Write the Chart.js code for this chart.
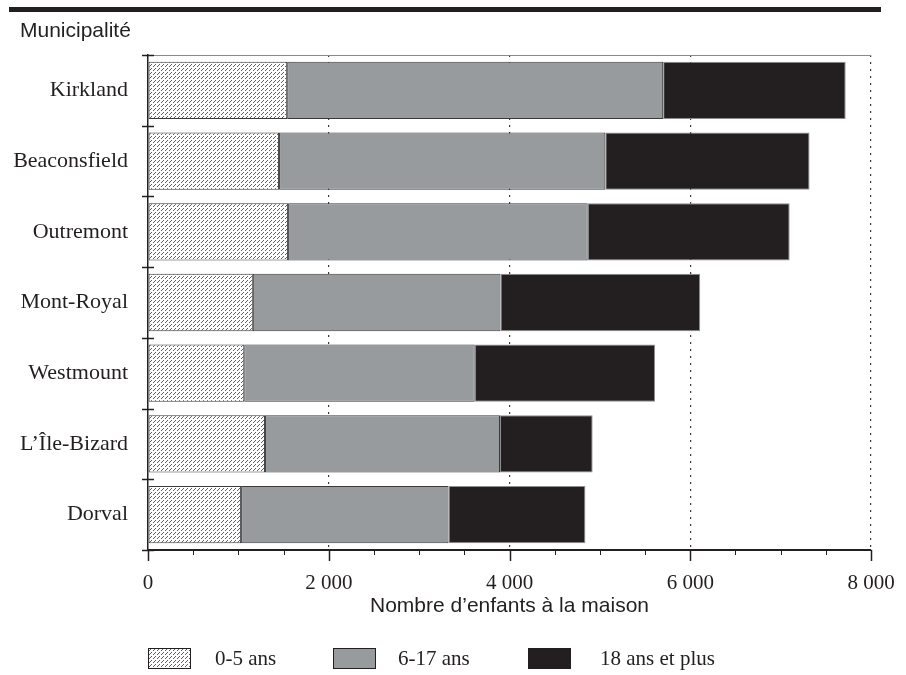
<!DOCTYPE html>
<html>
<head>
<meta charset="utf-8">
<script src="https://cdn.jsdelivr.net/npm/chart.js@4.4.1/dist/chart.umd.min.js"></script>
<style>
html, body { margin: 0; padding: 0; background: #fff; }
</style>
</head>
<body>
<canvas id="canvas-chart" width="906" height="675"></canvas>
<script>
// data
const municipalites = ['Kirkland', 'Beaconsfield', 'Outremont', 'Mont-Royal', 'Westmount', 'L\u2019\u00CEle-Bizard', 'Dorval'];
const ans0a5 = [1540, 1450, 1550, 1160, 1065, 1295, 1030];
const ans6a17 = [4160, 3610, 3315, 2740, 2550, 2600, 2295];
const ans18plus = [2020, 2260, 2235, 2210, 1995, 1025, 1515];
const seriesLabels = ['0-5 ans', '6-17 ans', '18 ans et plus'];
const xTicks = [0, 2000, 4000, 6000, 8000];
const xTickLabels = ['0', '2 000', '4 000', '6 000', '8 000'];

const INK = '#231f20';
const GRAY = '#979b9e';
const SERIF = '"Liberation Serif", "Times New Roman", serif';
const SANS = '"Liberation Sans", Arial, sans-serif';

function hatch() {
    const c = document.createElement('canvas');
    c.width = 8; c.height = 8;
    const g = c.getContext('2d');
    g.fillStyle = '#fff';
    g.fillRect(0, 0, 8, 8);
    g.fillStyle = '#5e5e5e';
    for (let x = 0; x < 8; x++) {
        for (let y = 0; y < 8; y++) {
            if ((x + y) % 4 === 3 && x % 4 !== 0) g.fillRect(x, y, 1, 1);
        }
    }
    return g.createPattern(c, 'repeat');
}
const hatchFill = hatch();

// ticks, top rule, corner title and legend
const decor = {
    id: 'decor',
    afterDraw(chart) {
        const ctx = chart.ctx;
        const area = chart.chartArea;
        const xs = chart.scales.x, ys = chart.scales.y;
        ctx.save();

        ctx.fillStyle = INK;
        ctx.fillRect(9, 7, 872, 5);

        ctx.font = '21px ' + SANS;
        ctx.textBaseline = 'alphabetic';
        ctx.textAlign = 'left';
        ctx.fillText('Municipalit\u00E9', 20, 37);

        ctx.strokeStyle = '#8a8a8a';
        ctx.lineWidth = 1;
        ctx.beginPath();
        ctx.moveTo(area.left, area.top + 0.5);
        ctx.lineTo(area.right, area.top + 0.5);
        ctx.stroke();

        ctx.strokeStyle = INK;
        for (let v = 0; v <= 8000; v += 500) {
            const px = Math.round(xs.getPixelForValue(v)) + 0.5;
            const major = v % 2000 === 0;
            ctx.lineWidth = major ? 1.5 : 1;
            ctx.beginPath();
            ctx.moveTo(px, area.bottom);
            ctx.lineTo(px, area.bottom + (major ? 11 : 5));
            ctx.stroke();
        }

        const half = (ys.getPixelForValue(1) - ys.getPixelForValue(0)) / 2;
        ctx.lineWidth = 1.5;
        for (let i = 0; i <= municipalites.length; i++) {
            const py = Math.round(ys.getPixelForValue(i) - half) + 0.5;
            ctx.beginPath();
            ctx.moveTo(area.left - 6, py);
            ctx.lineTo(area.left + 6, py);
            ctx.stroke();
        }

        const items = [
            {box: 148, text: 215},
            {box: 333, text: 398},
            {box: 528, text: 600}
        ];
        ctx.font = '21px ' + SERIF;
        ctx.textBaseline = 'middle';
        chart.data.datasets.forEach((ds, i) => {
            const it = items[i];
            ctx.fillStyle = ds.backgroundColor;
            ctx.fillRect(it.box, 648, 43, 21);
            ctx.lineWidth = 1;
            ctx.strokeStyle = INK;
            ctx.strokeRect(it.box + 0.5, 648.5, 42, 20);
            ctx.fillStyle = INK;
            ctx.fillText(ds.label, it.text, 659);
        });
        ctx.restore();
    }
};

new Chart(document.getElementById('canvas-chart'), {
    type: 'bar',
    data: {
        labels: municipalites,
        datasets: [
            {label: seriesLabels[0], data: ans0a5, backgroundColor: hatchFill, borderColor: '#3a3a3a'},
            {label: seriesLabels[1], data: ans6a17, backgroundColor: GRAY, borderColor: '#3a3a3a'},
            {label: seriesLabels[2], data: ans18plus, backgroundColor: INK, borderColor: '#8f8f8f'}
        ]
    },
    options: {
        indexAxis: 'y',
        responsive: false,
        animation: false,
        datasets: {
            bar: {
                borderWidth: 1,
                borderSkipped: false,
                barPercentage: 0.81,
                categoryPercentage: 1
            }
        },
        layout: {
            padding: {left: 0, right: 35, top: 55, bottom: 56}
        },
        scales: {
            x: {
                stacked: true,
                min: 0,
                max: 8000,
                afterFit(scale) {
                    scale.height = 69;
                    scale.paddingLeft = 0;
                    scale.paddingRight = 0;
                },
                ticks: {
                    stepSize: 500,
                    autoSkip: false,
                    maxRotation: 0,
                    padding: 21,
                    color: INK,
                    font: {family: SERIF, size: 21},
                    callback(v) {
                        const k = xTicks.indexOf(v);
                        return k >= 0 ? xTickLabels[k] : '';
                    }
                },
                grid: {
                    drawTicks: false,
                    color(c) {
                        const v = c.tick ? c.tick.value : 0;
                        return (v > 0 && v % 2000 === 0) ? '#3a3a3a' : 'rgba(0,0,0,0)';
                    },
                    lineWidth: 1.2
                },
                border: {color: INK, width: 2, dash: [2, 5]},
                title: {
                    display: true,
                    text: 'Nombre d\u2019enfants \u00E0 la maison',
                    color: INK,
                    font: {family: SANS, size: 21},
                    padding: 0
                }
            },
            y: {
                stacked: true,
                afterFit(scale) { scale.width = 148; },
                ticks: {
                    padding: 20,
                    color: INK,
                    font: {family: SERIF, size: 22}
                },
                grid: {display: false, drawTicks: false},
                border: {color: INK, width: 1.5}
            }
        },
        plugins: {
            legend: {display: false},
            tooltip: {enabled: false}
        }
    },
    plugins: [decor]
});
</script>
</body>
</html>
